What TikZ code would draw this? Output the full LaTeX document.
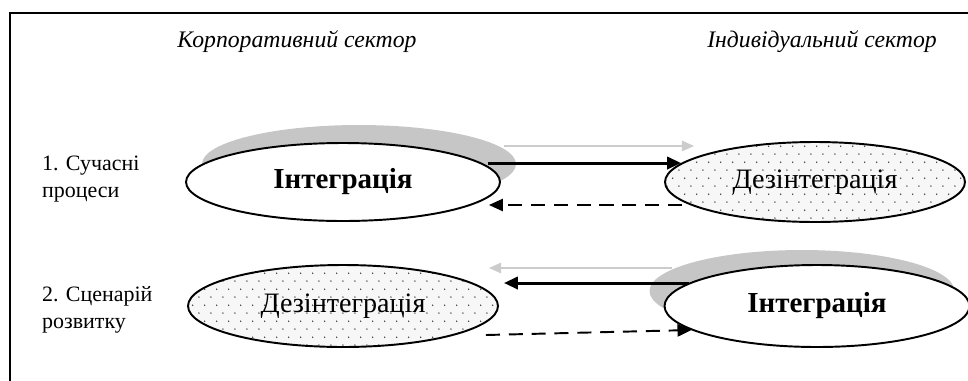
\documentclass[tikz,border=0pt]{standalone}
\usepackage{fontspec}
\setmainfont{Liberation Serif}
\usetikzlibrary{shapes.geometric, arrows.meta, shadows, patterns.meta, calc}

\tikzdeclarepattern{
  name=sparsedots, type=uncolored,
  bounding box={(0pt,0pt) and (7pt,9pt)},
  tile size={(7pt,9pt)},
  code={
    \fill (1.75pt,2.25pt) circle (0.45pt);
    \fill (5.25pt,6.75pt) circle (0.45pt);
  }
}

\tikzset{
  sector/.style={font=\itshape\fontsize{13.5}{16}\selectfont},
  rowlabel/.style={align=left, anchor=north west, font=\fontsize{12.5}{15.5}\selectfont},
  blob/.style={ellipse, draw, line width=1.1pt, inner sep=0pt},
  integ/.style={blob, fill=white, font=\bfseries\fontsize{16.5}{19}\selectfont},
  dezint/.style={blob, preaction={fill=gray!6}, pattern={sparsedots}, pattern color=black!75,
    font=\fontsize{16}{19}\selectfont},
  shadowR/.style={drop shadow={shadow xshift=.32cm, shadow yshift=.36cm, fill=gray!45, opacity=1}},
  shadowL/.style={drop shadow={shadow xshift=-.3cm, shadow yshift=.3cm, fill=gray!45, opacity=1}},
  strong/.style={line width=1.7pt, -{Triangle[length=8pt, width=7pt]}},
  faint/.style={line width=1.1pt, gray!40, -{Triangle[length=7pt, width=6pt]}},
  weak/.style={line width=1.1pt, dash pattern=on 8pt off 5pt, -{Triangle[length=8pt, width=7pt]}}
}

\begin{document}
\begin{tikzpicture}[x=0.02cm, y=-0.02cm]
  \useasboundingbox (0,0) rectangle (968,380);
  \clip (0,0) rectangle (968,380);
  \draw[line width=1.1pt] (10,13) rectangle (990,400);

  % headers and rows
  \node[sector] (corp) at (297,42) {Корпоративний сектор};
  \node[sector] (indiv) at (822,42) {Індивідуальний сектор};
  \node[rowlabel] (row1) at (36,150) {1. Сучасні\\процеси};
  \node[rowlabel] (row2) at (36,280) {2. Сценарій\\розвитку};

  % ellipses
  \node[integ, shadowR, minimum width=6.28cm, minimum height=1.56cm] (intA) at (343,182) {Інтеграція};
  \node[dezint, minimum width=6cm, minimum height=1.6cm] (dezB) at (815,182) {Дезінтеграція};
  \node[dezint, minimum width=6.2cm, minimum height=1.64cm] (dezC) at (343,306) {Дезінтеграція};
  \node[integ, shadowL, minimum width=6.1cm, minimum height=1.64cm] (intD) at (817,306) {Інтеграція};

  % row 1
  \draw[faint] ($(intA.east)+(3,-36)$) -- ($(dezB.west)+(30,-36)$);
  \draw[strong] ($(intA.east)+(-13,-19)$) -- ($(dezB.west)+(17,-19)$);
  \draw[weak] ($(dezB.west)+(18,23)$) -- ($(intA.east)+(-12,23)$);

  % row 2
  \draw[faint] ($(intD.west)+(8,-38)$) -- ($(dezC.east)+(-10,-38)$);
  \draw[strong] ($(intD.west)+(25,-23)$) -- ($(dezC.east)+(5,-23)$);
  \draw[weak] ($(dezC.east)+(-13,29)$) -- ($(intD.west)+(28,24)$);
\end{tikzpicture}
\end{document}
